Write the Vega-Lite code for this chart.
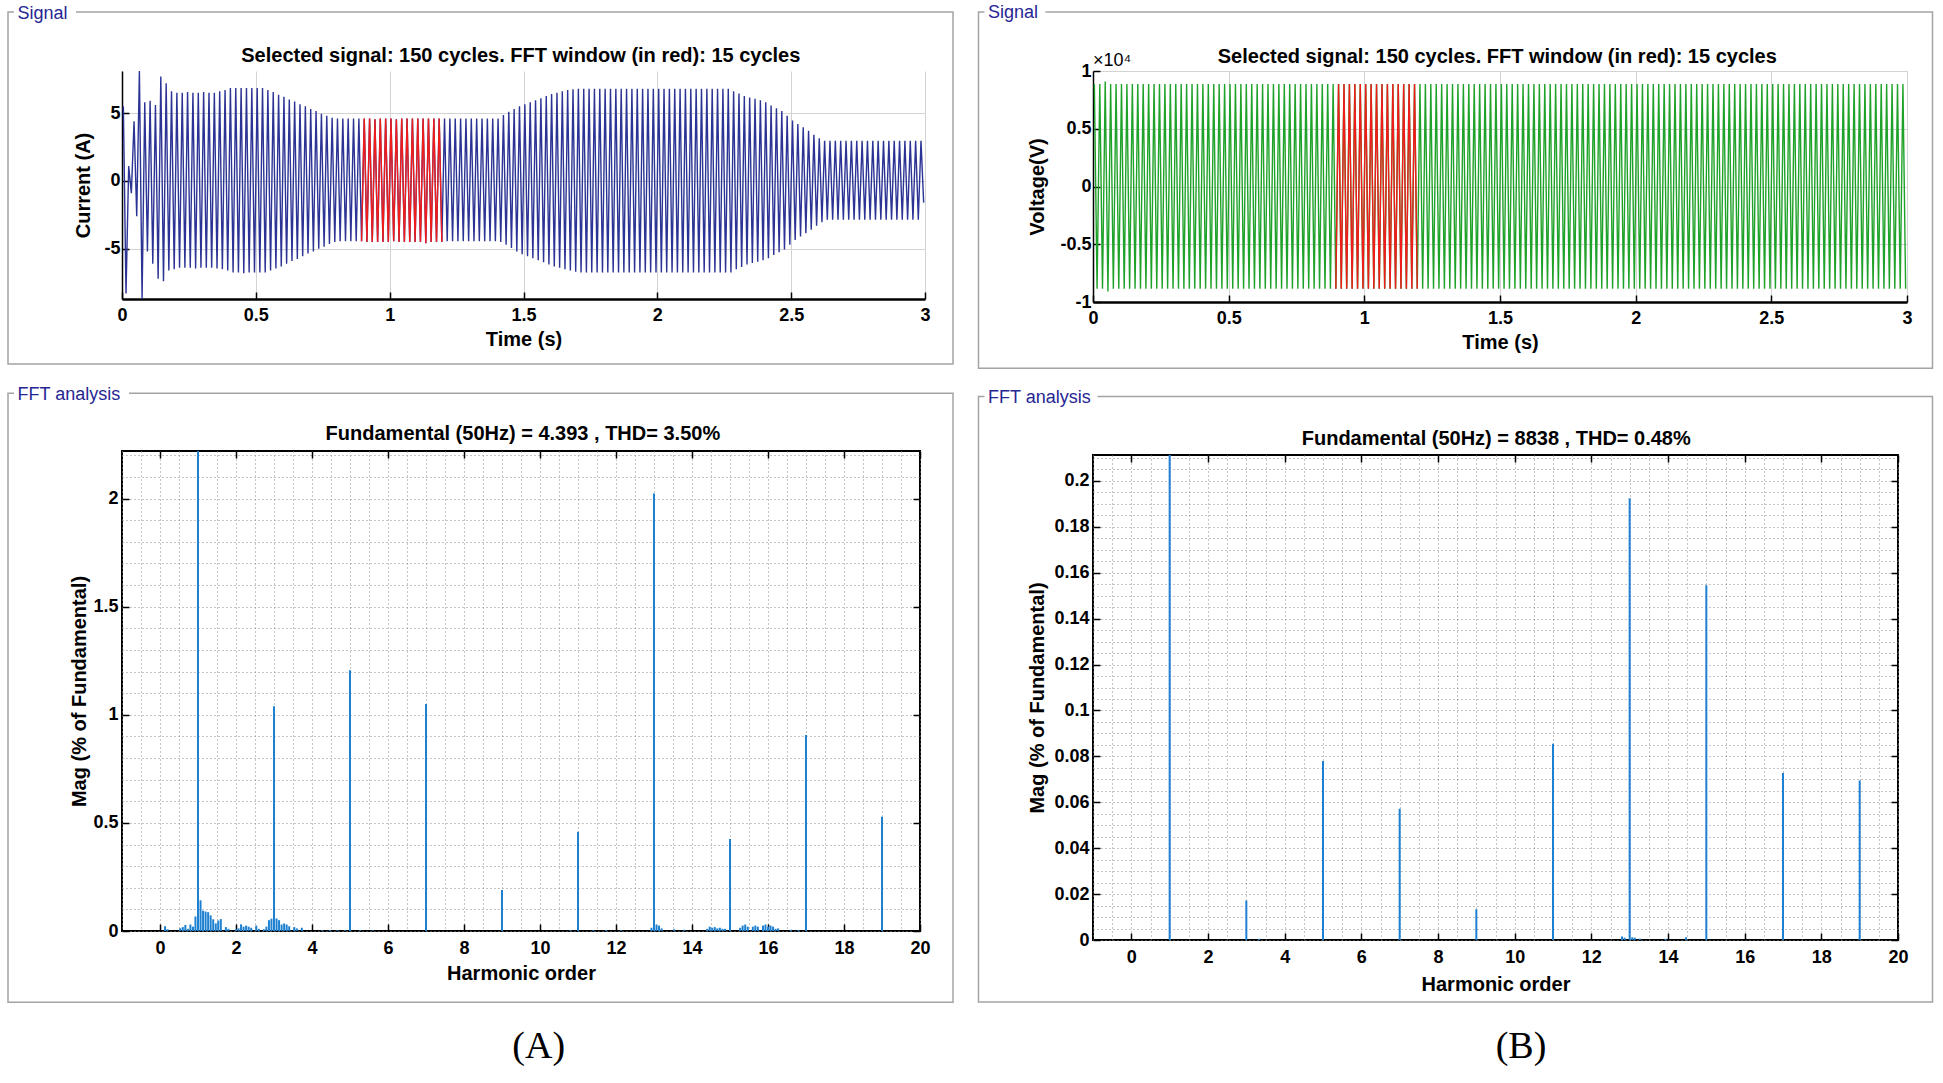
{
"$schema":"https://vega.github.io/schema/vega-lite/v6.json",
"background":"white",
"padding":{"left":6,"top":3,"right":4,"bottom":4},
"config":{
 "font":"Liberation Sans",
 "view":{"stroke":null},
 "axis":{"labelFont":"Liberation Sans","labelFontSize":18,"labelFontWeight":"bold","labelColor":"black","titleFont":"Liberation Sans","titleFontSize":20,"titleFontWeight":"bold","titleColor":"black","tickColor":"black","domainColor":"black","tickSize":-7,"tickWidth":1.5,"labelFlush":false,"labelOverlap":false}
},
"datasets":{
"one":[{}],
"sig":[
{"t":0.005,"i":5.5,"v":8880},{"t":0.015,"i":-8.3,"v":-8860},{"t":0.025,"i":1.1,"v":8880},{"t":0.035,"i":-0.9,"v":-8860},
{"t":0.045,"i":4.4,"v":9080},{"t":0.055,"i":-2.6,"v":-9100},{"t":0.065,"i":8.1,"v":8880},{"t":0.075,"i":-8.7,"v":-8860},
{"t":0.085,"i":5.8,"v":8880},{"t":0.095,"i":-5.2,"v":-8860},{"t":0.105,"i":5.9,"v":8880},{"t":0.115,"i":-6.1,"v":-8860},
{"t":0.125,"i":5.6,"v":8880},{"t":0.135,"i":-7.2,"v":-8860},{"t":0.145,"i":7.7,"v":8880},{"t":0.155,"i":-7.4,"v":-8860},
{"t":0.165,"i":7.2,"v":8880},{"t":0.175,"i":-6.6,"v":-8860},{"t":0.185,"i":6.6,"v":8880},{"t":0.195,"i":-6.5,"v":-8860},
{"t":0.205,"i":6.5,"v":8880},{"t":0.215,"i":-6.4,"v":-8860},{"t":0.225,"i":6.5,"v":8880},{"t":0.235,"i":-6.4,"v":-8860},
{"t":0.245,"i":6.55,"v":8880},{"t":0.255,"i":-6.4,"v":-8860},{"t":0.265,"i":6.5,"v":8880},{"t":0.275,"i":-6.45,"v":-8860},
{"t":0.285,"i":6.5,"v":8880},{"t":0.295,"i":-6.4,"v":-8860},{"t":0.305,"i":6.55,"v":8880},{"t":0.315,"i":-6.4,"v":-8860},
{"t":0.325,"i":6.5,"v":8880},{"t":0.335,"i":-6.4,"v":-8860},{"t":0.345,"i":6.5,"v":8880},{"t":0.355,"i":-6.45,"v":-8860},
{"t":0.365,"i":6.6,"v":8880},{"t":0.375,"i":-6.5,"v":-8860},{"t":0.385,"i":6.7,"v":8880},{"t":0.395,"i":-6.6,"v":-8860},
{"t":0.405,"i":6.85,"v":8880},{"t":0.415,"i":-6.75,"v":-8860},{"t":0.425,"i":6.85,"v":8880},{"t":0.435,"i":-6.75,"v":-8860},
{"t":0.445,"i":6.85,"v":8880},{"t":0.455,"i":-6.8,"v":-8860},{"t":0.465,"i":6.85,"v":8880},{"t":0.475,"i":-6.75,"v":-8860},
{"t":0.485,"i":6.85,"v":8880},{"t":0.495,"i":-6.75,"v":-8860},{"t":0.505,"i":6.85,"v":8880},{"t":0.515,"i":-6.75,"v":-8860},
{"t":0.525,"i":6.85,"v":8880},{"t":0.535,"i":-6.75,"v":-8860},{"t":0.545,"i":6.7,"v":8880},{"t":0.555,"i":-6.6,"v":-8860},
{"t":0.565,"i":6.55,"v":8880},{"t":0.575,"i":-6.45,"v":-8860},{"t":0.585,"i":6.35,"v":8880},{"t":0.595,"i":-6.3,"v":-8860},
{"t":0.605,"i":6.2,"v":8880},{"t":0.615,"i":-6.1,"v":-8860},{"t":0.625,"i":6.0,"v":8880},{"t":0.635,"i":-5.9,"v":-8860},
{"t":0.645,"i":5.85,"v":8880},{"t":0.655,"i":-5.75,"v":-8860},{"t":0.665,"i":5.65,"v":8880},{"t":0.675,"i":-5.55,"v":-8860},
{"t":0.685,"i":5.5,"v":8880},{"t":0.695,"i":-5.35,"v":-8860},{"t":0.705,"i":5.3,"v":8880},{"t":0.715,"i":-5.2,"v":-8860},
{"t":0.725,"i":5.15,"v":8880},{"t":0.735,"i":-5.0,"v":-8860},{"t":0.745,"i":4.95,"v":8880},{"t":0.755,"i":-4.85,"v":-8860},
{"t":0.765,"i":4.8,"v":8880},{"t":0.775,"i":-4.65,"v":-8860},{"t":0.785,"i":4.65,"v":8880},{"t":0.795,"i":-4.5,"v":-8860},
{"t":0.805,"i":4.6,"v":8880},{"t":0.815,"i":-4.45,"v":-8860},{"t":0.825,"i":4.6,"v":8880},{"t":0.835,"i":-4.45,"v":-8860},
{"t":0.845,"i":4.6,"v":8880},{"t":0.855,"i":-4.45,"v":-8860},{"t":0.865,"i":4.6,"v":8880},{"t":0.875,"i":-4.45,"v":-8860},
{"t":0.885,"i":4.6,"v":8880},{"t":0.895,"i":-4.45,"v":-8860},{"t":0.905,"i":4.6,"v":8880},{"t":0.915,"i":-4.5,"v":-8860},
{"t":0.925,"i":4.6,"v":8880},{"t":0.935,"i":-4.5,"v":-8860},{"t":0.945,"i":4.55,"v":8880},{"t":0.955,"i":-4.5,"v":-8860},
{"t":0.965,"i":4.6,"v":8880},{"t":0.975,"i":-4.5,"v":-8860},{"t":0.985,"i":4.6,"v":8880},{"t":0.995,"i":-4.5,"v":-8860},
{"t":1.005,"i":4.6,"v":8880},{"t":1.015,"i":-4.45,"v":-8860},{"t":1.025,"i":4.55,"v":8880},{"t":1.035,"i":-4.5,"v":-8860},
{"t":1.045,"i":4.6,"v":8880},{"t":1.055,"i":-4.5,"v":-8860},{"t":1.065,"i":4.6,"v":8880},{"t":1.075,"i":-4.5,"v":-8860},
{"t":1.085,"i":4.6,"v":8880},{"t":1.095,"i":-4.5,"v":-8860},{"t":1.105,"i":4.6,"v":8880},{"t":1.115,"i":-4.5,"v":-8860},
{"t":1.125,"i":4.6,"v":8880},{"t":1.135,"i":-4.6,"v":-8860},{"t":1.145,"i":4.6,"v":8880},{"t":1.155,"i":-4.5,"v":-8860},
{"t":1.165,"i":4.6,"v":8880},{"t":1.175,"i":-4.5,"v":-8860},{"t":1.185,"i":4.6,"v":8880},{"t":1.195,"i":-4.5,"v":-8860},
{"t":1.205,"i":4.6,"v":8880},{"t":1.215,"i":-4.45,"v":-8860},{"t":1.225,"i":4.6,"v":8880},{"t":1.235,"i":-4.45,"v":-8860},
{"t":1.245,"i":4.6,"v":8880},{"t":1.255,"i":-4.45,"v":-8860},{"t":1.265,"i":4.6,"v":8880},{"t":1.275,"i":-4.45,"v":-8860},
{"t":1.285,"i":4.6,"v":8880},{"t":1.295,"i":-4.45,"v":-8860},{"t":1.305,"i":4.6,"v":8880},{"t":1.315,"i":-4.45,"v":-8860},
{"t":1.325,"i":4.6,"v":8880},{"t":1.335,"i":-4.45,"v":-8860},{"t":1.345,"i":4.6,"v":8880},{"t":1.355,"i":-4.45,"v":-8860},
{"t":1.365,"i":4.6,"v":8880},{"t":1.375,"i":-4.45,"v":-8860},{"t":1.385,"i":4.6,"v":8880},{"t":1.395,"i":-4.45,"v":-8860},
{"t":1.405,"i":4.6,"v":8880},{"t":1.415,"i":-4.5,"v":-8860},{"t":1.425,"i":4.85,"v":8880},{"t":1.435,"i":-4.7,"v":-8860},
{"t":1.445,"i":5.1,"v":8880},{"t":1.455,"i":-4.95,"v":-8860},{"t":1.465,"i":5.3,"v":8880},{"t":1.475,"i":-5.2,"v":-8860},
{"t":1.485,"i":5.5,"v":8880},{"t":1.495,"i":-5.4,"v":-8860},{"t":1.505,"i":5.65,"v":8880},{"t":1.515,"i":-5.55,"v":-8860},
{"t":1.525,"i":5.8,"v":8880},{"t":1.535,"i":-5.7,"v":-8860},{"t":1.545,"i":5.95,"v":8880},{"t":1.555,"i":-5.85,"v":-8860},
{"t":1.565,"i":6.1,"v":8880},{"t":1.575,"i":-6.0,"v":-8860},{"t":1.585,"i":6.25,"v":8880},{"t":1.595,"i":-6.15,"v":-8860},
{"t":1.605,"i":6.4,"v":8880},{"t":1.615,"i":-6.3,"v":-8860},{"t":1.625,"i":6.5,"v":8880},{"t":1.635,"i":-6.4,"v":-8860},
{"t":1.645,"i":6.6,"v":8880},{"t":1.655,"i":-6.5,"v":-8860},{"t":1.665,"i":6.7,"v":8880},{"t":1.675,"i":-6.6,"v":-8860},
{"t":1.685,"i":6.75,"v":8880},{"t":1.695,"i":-6.7,"v":-8860},{"t":1.705,"i":6.8,"v":8880},{"t":1.715,"i":-6.75,"v":-8860},
{"t":1.725,"i":6.8,"v":8880},{"t":1.735,"i":-6.75,"v":-8860},{"t":1.745,"i":6.8,"v":8880},{"t":1.755,"i":-6.75,"v":-8860},
{"t":1.765,"i":6.8,"v":8880},{"t":1.775,"i":-6.75,"v":-8860},{"t":1.785,"i":6.8,"v":8880},{"t":1.795,"i":-6.75,"v":-8860},
{"t":1.805,"i":6.8,"v":8880},{"t":1.815,"i":-6.75,"v":-8860},{"t":1.825,"i":6.8,"v":8880},{"t":1.835,"i":-6.75,"v":-8860},
{"t":1.845,"i":6.8,"v":8880},{"t":1.855,"i":-6.75,"v":-8860},{"t":1.865,"i":6.8,"v":8880},{"t":1.875,"i":-6.75,"v":-8860},
{"t":1.885,"i":6.8,"v":8880},{"t":1.895,"i":-6.75,"v":-8860},{"t":1.905,"i":6.8,"v":8880},{"t":1.915,"i":-6.75,"v":-8860},
{"t":1.925,"i":6.8,"v":8880},{"t":1.935,"i":-6.75,"v":-8860},{"t":1.945,"i":6.8,"v":8880},{"t":1.955,"i":-6.75,"v":-8860},
{"t":1.965,"i":6.8,"v":8880},{"t":1.975,"i":-6.75,"v":-8860},{"t":1.985,"i":6.8,"v":8880},{"t":1.995,"i":-6.75,"v":-8860},
{"t":2.005,"i":6.8,"v":8880},{"t":2.015,"i":-6.75,"v":-8860},{"t":2.025,"i":6.8,"v":8880},{"t":2.035,"i":-6.75,"v":-8860},
{"t":2.045,"i":6.8,"v":8880},{"t":2.055,"i":-6.75,"v":-8860},{"t":2.065,"i":6.8,"v":8880},{"t":2.075,"i":-6.75,"v":-8860},
{"t":2.085,"i":6.8,"v":8880},{"t":2.095,"i":-6.75,"v":-8860},{"t":2.105,"i":6.8,"v":8880},{"t":2.115,"i":-6.75,"v":-8860},
{"t":2.125,"i":6.8,"v":8880},{"t":2.135,"i":-6.75,"v":-8860},{"t":2.145,"i":6.8,"v":8880},{"t":2.155,"i":-6.75,"v":-8860},
{"t":2.165,"i":6.8,"v":8880},{"t":2.175,"i":-6.75,"v":-8860},{"t":2.185,"i":6.8,"v":8880},{"t":2.195,"i":-6.75,"v":-8860},
{"t":2.205,"i":6.8,"v":8880},{"t":2.215,"i":-6.75,"v":-8860},{"t":2.225,"i":6.8,"v":8880},{"t":2.235,"i":-6.75,"v":-8860},
{"t":2.245,"i":6.8,"v":8880},{"t":2.255,"i":-6.75,"v":-8860},{"t":2.265,"i":6.8,"v":8880},{"t":2.275,"i":-6.75,"v":-8860},
{"t":2.285,"i":6.6,"v":8880},{"t":2.295,"i":-6.5,"v":-8860},{"t":2.305,"i":6.45,"v":8880},{"t":2.315,"i":-6.35,"v":-8860},
{"t":2.325,"i":6.25,"v":8880},{"t":2.335,"i":-6.15,"v":-8860},{"t":2.345,"i":6.15,"v":8880},{"t":2.355,"i":-6.05,"v":-8860},
{"t":2.365,"i":6.05,"v":8880},{"t":2.375,"i":-5.95,"v":-8860},{"t":2.385,"i":5.95,"v":8880},{"t":2.395,"i":-5.85,"v":-8860},
{"t":2.405,"i":5.8,"v":8880},{"t":2.415,"i":-5.7,"v":-8860},{"t":2.425,"i":5.55,"v":8880},{"t":2.435,"i":-5.45,"v":-8860},
{"t":2.445,"i":5.35,"v":8880},{"t":2.455,"i":-5.25,"v":-8860},{"t":2.465,"i":5.15,"v":8880},{"t":2.475,"i":-5.05,"v":-8860},
{"t":2.485,"i":4.8,"v":8880},{"t":2.495,"i":-4.7,"v":-8860},{"t":2.505,"i":4.45,"v":8880},{"t":2.515,"i":-4.35,"v":-8860},
{"t":2.525,"i":4.2,"v":8880},{"t":2.535,"i":-4.1,"v":-8860},{"t":2.545,"i":3.95,"v":8880},{"t":2.555,"i":-3.85,"v":-8860},
{"t":2.565,"i":3.7,"v":8880},{"t":2.575,"i":-3.6,"v":-8860},{"t":2.585,"i":3.4,"v":8880},{"t":2.595,"i":-3.3,"v":-8860},
{"t":2.605,"i":3.15,"v":8880},{"t":2.615,"i":-3.05,"v":-8860},{"t":2.625,"i":2.95,"v":8880},{"t":2.635,"i":-2.85,"v":-8860},
{"t":2.645,"i":2.95,"v":8880},{"t":2.655,"i":-2.85,"v":-8860},{"t":2.665,"i":2.95,"v":8880},{"t":2.675,"i":-2.85,"v":-8860},
{"t":2.685,"i":2.95,"v":8880},{"t":2.695,"i":-2.85,"v":-8860},{"t":2.705,"i":2.95,"v":8880},{"t":2.715,"i":-2.85,"v":-8860},
{"t":2.725,"i":2.95,"v":8880},{"t":2.735,"i":-2.85,"v":-8860},{"t":2.745,"i":2.95,"v":8880},{"t":2.755,"i":-2.85,"v":-8860},
{"t":2.765,"i":2.95,"v":8880},{"t":2.775,"i":-2.85,"v":-8860},{"t":2.785,"i":2.95,"v":8880},{"t":2.795,"i":-2.85,"v":-8860},
{"t":2.805,"i":2.95,"v":8880},{"t":2.815,"i":-2.85,"v":-8860},{"t":2.825,"i":2.95,"v":8880},{"t":2.835,"i":-2.85,"v":-8860},
{"t":2.845,"i":2.95,"v":8880},{"t":2.855,"i":-2.85,"v":-8860},{"t":2.865,"i":2.95,"v":8880},{"t":2.875,"i":-2.85,"v":-8860},
{"t":2.885,"i":2.95,"v":8880},{"t":2.895,"i":-2.85,"v":-8860},{"t":2.905,"i":2.95,"v":8880},{"t":2.915,"i":-2.85,"v":-8860},
{"t":2.925,"i":2.95,"v":8880},{"t":2.935,"i":-2.85,"v":-8860},{"t":2.945,"i":2.95,"v":8880},{"t":2.955,"i":-2.85,"v":-8860},
{"t":2.965,"i":2.95,"v":8880},{"t":2.975,"i":-2.85,"v":-8860},{"t":2.985,"i":2.95,"v":8880},{"t":2.995,"i":-1.6,"v":-8860}
],
"fa":[
{"h":0.133,"m":0.022},{"h":0.2,"m":0.008},{"h":0.533,"m":0.013},{"h":0.6,"m":0.018},{"h":0.667,"m":0.028},{"h":0.733,"m":0.01},
{"h":0.8,"m":0.03},{"h":0.867,"m":0.02},{"h":0.933,"m":0.067},{"h":1,"m":100},{"h":1.067,"m":0.142},{"h":1.133,"m":0.094},
{"h":1.2,"m":0.09},{"h":1.267,"m":0.087},{"h":1.333,"m":0.072},{"h":1.4,"m":0.054},{"h":1.467,"m":0.035},{"h":1.533,"m":0.048},
{"h":1.6,"m":0.055},{"h":1.733,"m":0.018},{"h":1.8,"m":0.01},{"h":2,"m":0.008},{"h":2.067,"m":0.012},{"h":2.133,"m":0.031},
{"h":2.2,"m":0.02},{"h":2.267,"m":0.025},{"h":2.333,"m":0.02},{"h":2.4,"m":0.015},{"h":2.533,"m":0.025},{"h":2.6,"m":0.01},
{"h":2.733,"m":0.008},{"h":2.8,"m":0.02},{"h":2.867,"m":0.05},{"h":2.933,"m":0.057},{"h":3,"m":1.04},{"h":3.067,"m":0.058},
{"h":3.133,"m":0.05},{"h":3.2,"m":0.03},{"h":3.267,"m":0.035},{"h":3.333,"m":0.03},{"h":3.4,"m":0.022},{"h":3.533,"m":0.018},
{"h":3.6,"m":0.012},{"h":3.733,"m":0.015},{"h":4.267,"m":0.004},{"h":4.467,"m":0.005},{"h":4.667,"m":0.004},{"h":4.867,"m":0.004},
{"h":5,"m":1.206},{"h":5.267,"m":0.004},{"h":5.6,"m":0.003},{"h":7,"m":1.05},{"h":9,"m":0.19},{"h":10.8,"m":0.004},
{"h":11,"m":0.459},{"h":11.4,"m":0.004},{"h":11.733,"m":0.005},{"h":12.133,"m":0.004},{"h":12.933,"m":0.015},{"h":13,"m":2.024},
{"h":13.067,"m":0.03},{"h":13.133,"m":0.025},{"h":13.2,"m":0.012},{"h":13.533,"m":0.008},{"h":13.8,"m":0.006},{"h":14.4,"m":0.01},
{"h":14.467,"m":0.02},{"h":14.533,"m":0.015},{"h":14.6,"m":0.018},{"h":14.667,"m":0.012},{"h":14.733,"m":0.015},{"h":14.8,"m":0.01},
{"h":14.867,"m":0.01},{"h":15,"m":0.425},{"h":15.267,"m":0.015},{"h":15.333,"m":0.025},{"h":15.4,"m":0.03},{"h":15.467,"m":0.02},
{"h":15.6,"m":0.02},{"h":15.667,"m":0.025},{"h":15.733,"m":0.02},{"h":15.867,"m":0.025},{"h":15.933,"m":0.03},{"h":16,"m":0.02},
{"h":16.067,"m":0.025},{"h":16.133,"m":0.02},{"h":16.2,"m":0.01},{"h":16.267,"m":0.012},{"h":16.6,"m":0.006},{"h":16.8,"m":0.005},
{"h":17,"m":0.906},{"h":19,"m":0.528}
],
"fb":[
{"h":1,"m":100},{"h":3,"m":0.0172},{"h":3.333,"m":0.0005},{"h":5,"m":0.078},{"h":7,"m":0.0572},{"h":9,"m":0.0134},
{"h":11,"m":0.0855},{"h":12.8,"m":0.0015},{"h":12.867,"m":0.001},{"h":13,"m":0.1925},{"h":13.067,"m":0.0012},{"h":13.133,"m":0.001},
{"h":13.267,"m":0.0006},{"h":13.933,"m":0.0005},{"h":14.467,"m":0.0012},{"h":15,"m":0.1545},{"h":17,"m":0.0728},{"h":19,"m":0.0695}
]
},
"spacing":21,
"hconcat":[
{
"spacing":19,
"vconcat":[
{
"width":803,"height":228,
"view":{"stroke":null},
"layer":[
{"data":{"name":"sig"},"mark":{"type":"line","color":"#2b3394","strokeWidth":1.4,"strokeJoin":"bevel"},
 "encoding":{
  "x":{"field":"t","type":"quantitative","scale":{"domain":[0,3],"nice":false,"zero":false},
   "axis":{"orient":"bottom","values":[0,0.5,1,1.5,2,2.5,3],"labelExpr":"'' + datum.value","grid":true,"gridColor":"#d3d3d3","domainWidth":2.5,"labelPadding":14,"title":"Time (s)","titlePadding":5}},
  "y":{"field":"i","type":"quantitative","scale":{"domain":[-8.7,8.1],"nice":false,"zero":false},
   "axis":{"orient":"left","values":[-5,0,5],"labelExpr":"'' + datum.value","grid":true,"gridColor":"#d3d3d3","domainWidth":1.5,"labelPadding":9,"title":"Current (A)","titlePadding":10}}}},
{"data":{"name":"one"},"mark":{"type":"rect","fill":"white","fillOpacity":0,"stroke":"#a4a4a4","strokeWidth":1.5},
 "encoding":{"x":{"datum":-0.4259,"type":"quantitative",
   "axis":{"orient":"top","values":[0,3],"labels":false,"grid":false,"domain":false,"title":null,"tickOpacity":0}},
 "x2":{"datum":3.10461},
 "y":{"datum":12.447,"type":"quantitative",
   "axis":{"orient":"right","values":[0],"labels":false,"grid":false,"domain":false,"title":null,"tickOpacity":0}},
 "y2":{"datum":-13.4895}}},
{"data":{"name":"sig"},"transform":[{"filter":"datum.t >= 0.894 && datum.t <= 1.196"}],
 "mark":{"type":"line","color":"#f01c1c","strokeWidth":1.4,"strokeJoin":"bevel"},
 "encoding":{"x":{"field":"t","type":"quantitative","axis":null},"y":{"field":"i","type":"quantitative","axis":null}}},
{"data":{"name":"one"},"mark":{"type":"rect","fill":"white"},
 "encoding":{"x":{"datum":-0.40349,"type":"quantitative","axis":null},"x2":{"datum":-0.17186},"y":{"datum":12.8526,"type":"quantitative","axis":null},"y2":{"datum":11.8211}}},
{"data":{"name":"one"},"mark":{"type":"text","align":"left","baseline":"middle","fontSize":18,"color":"#262693"},
 "encoding":{"x":{"datum":-0.39041,"type":"quantitative","axis":null},"y":{"datum":12.3368,"type":"quantitative","axis":null},"text":{"value":"Signal"}}},
{"data":{"name":"one"},"mark":{"type":"text","align":"center","baseline":"middle","fontSize":20,"fontWeight":"bold","color":"black"},
 "encoding":{"x":{"datum":1.49,"type":"quantitative","axis":null},"y":{"datum":9.205,"type":"quantitative","axis":null},"text":{"value":"Selected signal: 150 cycles. FFT window (in red): 15 cycles"}}}
]
},
{
"width":798,"height":480,
"view":{"stroke":"black","strokeWidth":2},
"layer":[
{"data":{"name":"fa"},"mark":{"type":"rule","color":"#1e80d0","strokeWidth":2,"clip":true},
 "encoding":{
  "x":{"field":"h","type":"quantitative","scale":{"domain":[-1,20],"nice":false,"zero":false},
   "axis":{"orient":"bottom","values":[-1,-0.5,0,0.5,1,1.5,2,2.5,3,3.5,4,4.5,5,5.5,6,6.5,7,7.5,8,8.5,9,9.5,10,10.5,11,11.5,12,12.5,13,13.5,14,14.5,15,15.5,16,16.5,17,17.5,18,18.5,19,19.5,20],
    "labelExpr":"datum.value % 2 == 0 ? '' + datum.value : ''",
    "tickOpacity":{"condition":{"test":"datum.value % 2 != 0","value":0},"value":1},
    "grid":true,"gridDash":[1,3],"gridColor":"#8a8a8a","domain":false,"labelPadding":15,"title":"Harmonic order","titlePadding":6}},
  "y":{"field":"m","type":"quantitative","scale":{"domain":[0,2.22],"nice":false,"zero":false},
   "axis":{"orient":"left","values":[0,0.1,0.2,0.3,0.4,0.5,0.6,0.7,0.8,0.9,1,1.1,1.2,1.3,1.4,1.5,1.6,1.7,1.8,1.9,2,2.1,2.2],
    "labelExpr":"round(datum.value*10) % 5 == 0 ? '' + datum.value : ''",
    "tickOpacity":{"condition":{"test":"round(datum.value*10) % 5 != 0","value":0},"value":1},
    "grid":true,"gridDash":[1,3],"gridColor":"#8a8a8a","domain":false,"labelPadding":11,"title":"Mag (% of Fundamental)","titlePadding":3}},
  "y2":{"datum":0}}},
{"data":{"name":"one"},"mark":{"type":"rect","fill":"white","fillOpacity":0,"stroke":"#a4a4a4","strokeWidth":1.5},
 "encoding":{"x":{"datum":-4.0,"type":"quantitative",
   "axis":{"orient":"top","values":[0,2,4,6,8,10,12,14,16,18,20],"labels":false,"grid":false,"domain":false,"title":null}},
 "x2":{"datum":20.8684},
 "y":{"datum":2.48686,"type":"quantitative",
   "axis":{"orient":"right","values":[0,0.5,1,1.5,2],"labels":false,"grid":false,"domain":false,"title":null}},
 "y2":{"datum":-0.32976}}},
{"data":{"name":"one"},"mark":{"type":"rect","fill":"white"},
 "encoding":{"x":{"datum":-3.8421,"type":"quantitative","axis":null},"x2":{"datum":-0.8158},"y":{"datum":2.51461,"type":"quantitative","axis":null},"y2":{"datum":2.44986}}},
{"data":{"name":"one"},"mark":{"type":"text","align":"left","baseline":"middle","fontSize":18,"color":"#262693"},
 "encoding":{"x":{"datum":-3.75,"type":"quantitative","axis":null},"y":{"datum":2.47993,"type":"quantitative","axis":null},"text":{"value":"FFT analysis"}}},
{"data":{"name":"one"},"mark":{"type":"text","align":"center","baseline":"middle","fontSize":20,"fontWeight":"bold","color":"black"},
 "encoding":{"x":{"datum":9.55,"type":"quantitative","axis":null},"y":{"datum":2.299,"type":"quantitative","axis":null},"text":{"value":"Fundamental (50Hz) = 4.393 , THD= 3.50%"}}},
{"data":{"name":"one"},"mark":{"type":"text","align":"center","baseline":"middle","fontSize":38,"font":"Liberation Serif","color":"black"},
 "encoding":{"x":{"datum":9.966,"type":"quantitative","axis":null},"y":{"datum":-0.5379,"type":"quantitative","axis":null},"text":{"value":"(A)"}}}
]
}
]
},
{
"spacing":17,
"vconcat":[
{
"width":814,"height":231,
"view":{"stroke":null},
"layer":[
{"data":{"name":"sig"},"mark":{"type":"line","color":"#1fa229","strokeWidth":1.4,"strokeJoin":"bevel"},
 "encoding":{
  "x":{"field":"t","type":"quantitative","scale":{"domain":[0,3],"nice":false,"zero":false},
   "axis":{"orient":"bottom","values":[0,0.5,1,1.5,2,2.5,3],"labelExpr":"'' + datum.value","grid":true,"gridColor":"#d3d3d3","domainWidth":2.5,"labelPadding":14,"title":"Time (s)","titlePadding":5}},
  "y":{"field":"v","type":"quantitative","scale":{"domain":[-10000,10000],"nice":false,"zero":false},
   "axis":{"orient":"left","values":[-10000,-5000,0,5000,10000],"labelExpr":"'' + (datum.value/10000)","grid":true,"gridColor":"#d3d3d3","domainWidth":1.5,"labelPadding":9,"title":"Voltage(V)","titlePadding":12}}}},
{"data":{"name":"one"},"mark":{"type":"rect","fill":"white","fillOpacity":0,"stroke":"#a4a4a4","strokeWidth":1.5},
 "encoding":{"x":{"datum":-0.42199,"type":"quantitative",
   "axis":{"orient":"top","values":[0,3],"labels":false,"grid":false,"domain":false,"title":null,"tickOpacity":0}},
 "x2":{"datum":3.09398},
 "y":{"datum":15108,"type":"quantitative",
   "axis":{"orient":"right","values":[0],"labels":false,"grid":false,"domain":false,"title":null,"tickOpacity":0}},
 "y2":{"datum":-15740}}},
{"data":{"name":"sig"},"transform":[{"filter":"datum.t >= 0.894 && datum.t <= 1.196"}],
 "mark":{"type":"line","color":"#f01c1c","strokeWidth":1.4,"strokeJoin":"bevel"},
 "encoding":{"x":{"field":"t","type":"quantitative","axis":null},"y":{"field":"v","type":"quantitative","axis":null}}},
{"data":{"name":"one"},"mark":{"type":"rect","fill":"white"},
 "encoding":{"x":{"datum":-0.39988,"type":"quantitative","axis":null},"x2":{"datum":-0.17506},"y":{"datum":15601,"type":"quantitative","axis":null},"y2":{"datum":14390}}},
{"data":{"name":"one"},"mark":{"type":"text","align":"left","baseline":"middle","fontSize":18,"color":"#262693"},
 "encoding":{"x":{"datum":-0.38698,"type":"quantitative","axis":null},"y":{"datum":15022,"type":"quantitative","axis":null},"text":{"value":"Signal"}}},
{"data":{"name":"one"},"mark":{"type":"text","align":"left","baseline":"middle","fontSize":18,"color":"black"},
 "encoding":{"x":{"datum":0.0,"type":"quantitative","axis":null},"y":{"datum":10900,"type":"quantitative","axis":null},"text":{"value":"×10⁴"}}},
{"data":{"name":"one"},"mark":{"type":"text","align":"center","baseline":"middle","fontSize":20,"fontWeight":"bold","color":"black"},
 "encoding":{"x":{"datum":1.49,"type":"quantitative","axis":null},"y":{"datum":11186,"type":"quantitative","axis":null},"text":{"value":"Selected signal: 150 cycles. FFT window (in red): 15 cycles"}}}
]
},
{
"width":805,"height":485,
"view":{"stroke":"black","strokeWidth":2},
"layer":[
{"data":{"name":"fb"},"mark":{"type":"rule","color":"#1e80d0","strokeWidth":2,"clip":true},
 "encoding":{
  "x":{"field":"h","type":"quantitative","scale":{"domain":[-1,20],"nice":false,"zero":false},
   "axis":{"orient":"bottom","values":[-1,-0.5,0,0.5,1,1.5,2,2.5,3,3.5,4,4.5,5,5.5,6,6.5,7,7.5,8,8.5,9,9.5,10,10.5,11,11.5,12,12.5,13,13.5,14,14.5,15,15.5,16,16.5,17,17.5,18,18.5,19,19.5,20],
    "labelExpr":"datum.value % 2 == 0 ? '' + datum.value : ''",
    "tickOpacity":{"condition":{"test":"datum.value % 2 != 0","value":0},"value":1},
    "grid":true,"gridDash":[1,3],"gridColor":"#8a8a8a","domain":false,"labelPadding":15,"title":"Harmonic order","titlePadding":8}},
  "y":{"field":"m","type":"quantitative","scale":{"domain":[0,0.2113],"nice":false,"zero":false},
   "axis":{"orient":"left","values":[0,0.005,0.01,0.015,0.02,0.025,0.03,0.035,0.04,0.045,0.05,0.055,0.06,0.065,0.07,0.075,0.08,0.085,0.09,0.095,0.1,0.105,0.11,0.115,0.12,0.125,0.13,0.135,0.14,0.145,0.15,0.155,0.16,0.165,0.17,0.175,0.18,0.185,0.19,0.195,0.2,0.205,0.21],
    "labelExpr":"round(datum.value*1000) % 20 == 0 ? '' + datum.value : ''",
    "tickOpacity":{"condition":{"test":"round(datum.value*1000) % 20 != 0","value":0},"value":1},
    "grid":true,"gridDash":[1,3],"gridColor":"#8a8a8a","domain":false,"labelPadding":11,"title":"Mag (% of Fundamental)","titlePadding":6}},
  "y2":{"datum":0}}},
{"data":{"name":"one"},"mark":{"type":"rect","fill":"white","fillOpacity":0,"stroke":"#a4a4a4","strokeWidth":1.5},
 "encoding":{"x":{"datum":-3.98699,"type":"quantitative",
   "axis":{"orient":"top","values":[0,2,4,6,8,10,12,14,16,18,20],"labels":false,"grid":false,"domain":false,"title":null}},
 "x2":{"datum":20.9},
 "y":{"datum":0.236787,"type":"quantitative",
   "axis":{"orient":"right","values":[0,0.02,0.04,0.06,0.08,0.1,0.12,0.14,0.16,0.18,0.2],"labels":false,"grid":false,"domain":false,"title":null}},
 "y2":{"datum":-0.027013}}},
{"data":{"name":"one"},"mark":{"type":"rect","fill":"white"},
 "encoding":{"x":{"datum":-3.83045,"type":"quantitative","axis":null},"x2":{"datum":-0.8826},"y":{"datum":0.239401,"type":"quantitative","axis":null},"y2":{"datum":0.233301}}},
{"data":{"name":"one"},"mark":{"type":"text","align":"left","baseline":"middle","fontSize":18,"color":"#262693"},
 "encoding":{"x":{"datum":-3.73915,"type":"quantitative","axis":null},"y":{"datum":0.236351,"type":"quantitative","axis":null},"text":{"value":"FFT analysis"}}},
{"data":{"name":"one"},"mark":{"type":"text","align":"center","baseline":"middle","fontSize":20,"fontWeight":"bold","color":"black"},
 "encoding":{"x":{"datum":9.52,"type":"quantitative","axis":null},"y":{"datum":0.21845,"type":"quantitative","axis":null},"text":{"value":"Fundamental (50Hz) = 8838 , THD= 0.48%"}}},
{"data":{"name":"one"},"mark":{"type":"text","align":"center","baseline":"middle","fontSize":38,"font":"Liberation Serif","color":"black"},
 "encoding":{"x":{"datum":10.165,"type":"quantitative","axis":null},"y":{"datum":-0.04662,"type":"quantitative","axis":null},"text":{"value":"(B)"}}}
]
}
]
}
]
}
